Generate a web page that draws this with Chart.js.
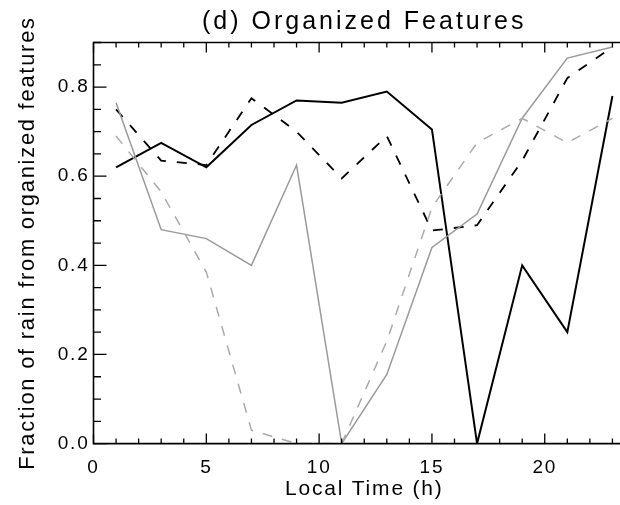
<!DOCTYPE html>
<html>
<head>
<meta charset="utf-8">
<script src="https://cdn.jsdelivr.net/npm/chart.js@4/dist/chart.umd.min.js"></script>
<style>
  html, body { margin: 0; padding: 0; background: #fff; overflow: hidden; }
  #wrap { width: 620px; height: 505px; overflow: hidden; }
</style>
</head>
<body>
<div id="wrap"><canvas id="organized" width="660" height="505"></canvas></div>
<script>
// local time of each sample (h)
const hours = [1, 3, 5, 7, 9, 11, 13, 15, 17, 19, 21, 23];

// fraction of rain from organized features, one array per curve
const solidBlack  = [0.62, 0.675, 0.62, 0.715, 0.77, 0.765, 0.79, 0.705, 0.0, 0.40, 0.25, 0.78];
const dashedBlack = [0.75, 0.635, 0.625, 0.775, 0.70, 0.595, 0.69, 0.478, 0.49, 0.635, 0.82, 0.89];
const solidGray   = [0.765, 0.48, 0.46, 0.40, 0.625, 0.0, 0.155, 0.44, 0.515, 0.73, 0.865, 0.89];
const dashedGray  = [0.69, 0.565, 0.385, 0.03, 0.0, 0.0, 0.23, 0.53, 0.675, 0.73, 0.675, 0.73];

// axis ticks
const xTicks = [0, 5, 10, 15, 20];
const yTicks = [0.0, 0.2, 0.4, 0.6, 0.8];

const FONT = '"Liberation Sans", Arial, Helvetica, sans-serif';

const pts = vals => vals.map((v, i) => ({ x: hours[i], y: v }));

// IDL style frame with inward ticks (major + minor)
const framePlugin = {
  id: 'frame',
  beforeDraw(chart) {
    chart.ctx.letterSpacing = '1.8px';
    const tb = chart.titleBlock;
    if (tb && !tb._spaced) {
      const draw = tb.draw.bind(tb);
      tb.draw = (area) => {
        const c = chart.ctx;
        c.save();
        c.letterSpacing = '3px';
        draw(area);
        c.restore();
      };
      tb._spaced = true;
    }
  },
  afterDraw(chart) {
    const { ctx, chartArea: a, scales: { x, y } } = chart;
    ctx.save();
    ctx.strokeStyle = '#000';
    ctx.lineWidth = 1.6;
    ctx.beginPath();
    ctx.moveTo(a.right, a.top);
    ctx.lineTo(a.left, a.top);
    ctx.lineTo(a.left, a.bottom);
    ctx.lineTo(a.right, a.bottom);
    ctx.stroke();

    ctx.lineWidth = 1.3;
    ctx.beginPath();
    for (let h = 0; h <= 24; h++) {
      const px = x.getPixelForValue(h);
      const len = h % 5 === 0 ? 10 : 5;
      ctx.moveTo(px, a.bottom);
      ctx.lineTo(px, a.bottom - len);
      ctx.moveTo(px, a.top);
      ctx.lineTo(px, a.top + len);
    }
    for (let k = 0; k <= 18; k++) {
      const py = y.getPixelForValue(k * 0.05);
      const len = k % 4 === 0 ? 13 : 7.5;
      ctx.moveTo(a.left, py);
      ctx.lineTo(a.left + len, py);
    }
    ctx.stroke();
    ctx.restore();
  }
};

const ctx = document.getElementById('organized').getContext('2d');

new Chart(ctx, {
  type: 'line',
  data: {
    datasets: [
      { data: pts(dashedGray), borderColor: '#aaaaaa', borderWidth: 1.5, borderDash: [10, 10] },
      { data: pts(solidGray), borderColor: '#9a9a9a', borderWidth: 1.5 },
      { data: pts(dashedBlack), borderColor: '#000000', borderWidth: 1.8, borderDash: [10, 11] },
      { data: pts(solidBlack), borderColor: '#000000', borderWidth: 2 }
    ]
  },
  options: {
    responsive: false,
    animation: false,
    devicePixelRatio: 1,
    layout: { padding: { left: 0, right: 25, top: 0, bottom: 0 } },
    elements: {
      point: { radius: 0 },
      line: { tension: 0, fill: false }
    },
    plugins: {
      legend: { display: false },
      tooltip: { enabled: false },
      title: {
        display: true,
        text: '(d) Organized Features',
        fullSize: false,
        color: '#000',
        font: { family: FONT, size: 25, weight: 'normal', lineHeight: 1.2 },
        padding: { top: 7.5, bottom: 5 }
      }
    },
    scales: {
      x: {
        type: 'linear',
        min: 0,
        max: 24,
        afterBuildTicks: s => { s.ticks = xTicks.map(v => ({ value: v })); },
        afterFit: s => { s.height = 61.4; },
        grid: { display: false, drawTicks: false },
        border: { display: false },
        ticks: {
          color: '#000',
          padding: 13,
          maxRotation: 0,
          font: { family: FONT, size: 19 },
          callback: v => String(v)
        },
        title: {
          display: true,
          text: 'Local Time (h)',
          color: '#000',
          font: { family: FONT, size: 21 },
          padding: { top: 0, bottom: 3 }
        }
      },
      y: {
        min: 0,
        max: 0.9,
        afterBuildTicks: s => { s.ticks = yTicks.map(v => ({ value: v })); },
        afterFit: s => { s.width = 93.5; },
        grid: { display: false, drawTicks: false },
        border: { display: false },
        ticks: {
          color: '#000',
          padding: 4,
          font: { family: FONT, size: 19 },
          callback: v => Number(v).toFixed(1)
        },
        title: {
          display: true,
          text: 'Fraction of rain from organized features',
          color: '#000',
          font: { family: FONT, size: 21.8 },
          padding: { top: 15, bottom: 0 }
        }
      }
    }
  },
  plugins: [framePlugin]
});
</script>
</body>
</html>
